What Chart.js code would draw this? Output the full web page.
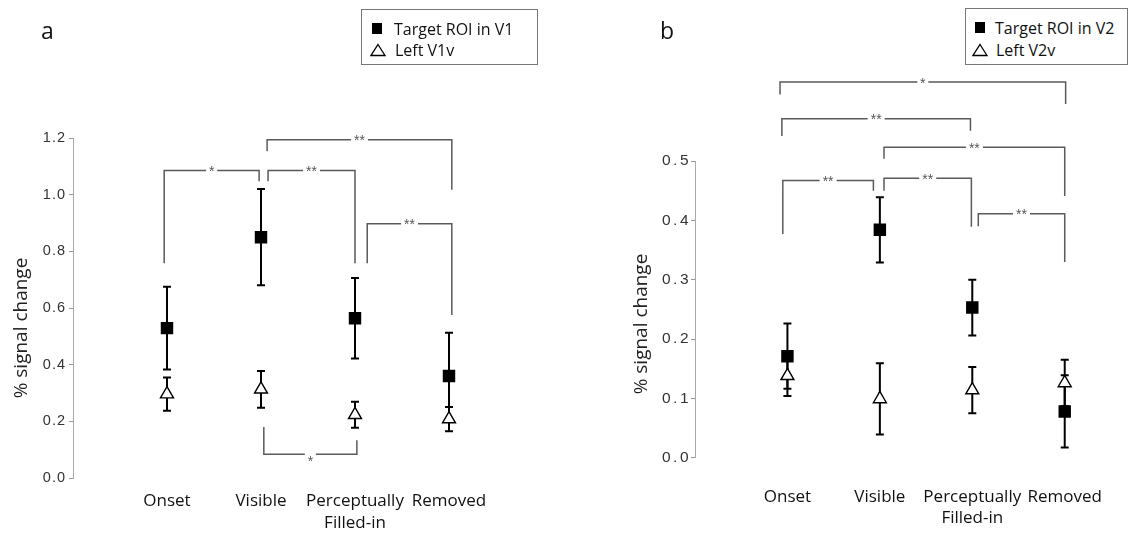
<!DOCTYPE html>
<html>
<head>
<meta charset="utf-8">
<script src="https://cdn.jsdelivr.net/npm/chart.js@4.4.0/dist/chart.umd.min.js"></script>
<style>
  html, body { margin: 0; padding: 0; background: #fff; }
  #wrap { position: relative; width: 1132px; height: 534px; overflow: hidden; font-family: "Open Sans", sans-serif; color: #111; }
  canvas { position: absolute; top: 0; }
  #cA { left: 0; }
  #cB { left: 566px; }
  .letter { position: absolute; font-size: 23px; line-height: 1; color: #111; }
  .legend { position: absolute; border: 1px solid #777; background: #fff; box-sizing: border-box; font-size: 16px; }
  .legend .row { position: absolute; left: 0; right: 0; height: 20px; line-height: 20px; white-space: nowrap; }
  .legend svg { position: absolute; top: 3px; }
  .legend span { position: absolute; }
</style>
</head>
<body>
<div id="wrap">
  <canvas id="cA" width="566" height="534"></canvas>
  <canvas id="cB" width="566" height="534"></canvas>

  <div class="letter" style="left:41px; top:19px;">a</div>
  <div class="letter" style="left:660px; top:19px;">b</div>

  <div class="legend" style="left:361px; top:9px; width:177px; height:56px;">
    <div class="row" style="top:9px;">
      <svg width="14" height="14" style="left:9px;"><rect x="1" y="1" width="10" height="11" fill="#000"/></svg>
      <span style="left:32px;">Target ROI in V1</span>
    </div>
    <div class="row" style="top:30px;">
      <svg width="18" height="14" style="left:8px;"><polygon points="8,1.5 15,12.5 1,12.5" fill="#fff" stroke="#000" stroke-width="1.3"/></svg>
      <span style="left:33px;">Left V1v</span>
    </div>
  </div>

  <div class="legend" style="left:965px; top:8px; width:163px; height:57px;">
    <div class="row" style="top:9px;">
      <svg width="14" height="14" style="left:8px;"><rect x="1" y="1" width="10" height="11" fill="#000"/></svg>
      <span style="left:29px;">Target ROI in V2</span>
    </div>
    <div class="row" style="top:31px;">
      <svg width="18" height="14" style="left:6px;"><polygon points="8,1.5 15,12.5 1,12.5" fill="#fff" stroke="#000" stroke-width="1.3"/></svg>
      <span style="left:30px;">Left V2v</span>
    </div>
  </div>
</div>

<script>
// Conditions on the x axis (multi-line label for the third one)
const categories = ['Onset', 'Visible', ['Perceptually', 'Filled-in'], 'Removed'];

// Panel a: V1 (% signal change, mean and error)
const v1Target    = [0.529, 0.850, 0.564, 0.360];
const v1TargetErr = [0.146, 0.170, 0.142, 0.153];
const v1Left      = [0.296, 0.313, 0.223, 0.208];
const v1LeftErr   = [0.059, 0.065, 0.046, 0.043];
const v1Ticks     = [0.0, 0.2, 0.4, 0.6, 0.8, 1.0, 1.2];

// Panel b: V2
const v2Target    = [0.171, 0.384, 0.253, 0.078];
const v2TargetErr = [0.055, 0.055, 0.047, 0.061];
const v2Left      = [0.138, 0.099, 0.114, 0.126];
const v2LeftErr   = [0.034, 0.060, 0.039, 0.039];
const v2Ticks     = [0.0, 0.1, 0.2, 0.3, 0.4, 0.5];

// Significance brackets: [from, to, level, left leg end, right leg end, label, left nudge, right nudge]
const v1Brackets = [
  [0, 1, 1.085, 0.758, 1.047, '*',  -0.03, -0.02],
  [1, 2, 1.085, 1.047, 0.758, '**',  0.075, 0.0],
  [1, 3, 1.194, 1.153, 1.017, '**',  0.065, 0.03],
  [2, 3, 0.897, 0.758, 0.575, '**',  0.13,  0.03],
  [1, 2, 0.084, 0.180, 0.133, '*',   0.03,  0.02]
];
const v2Brackets = [
  [0, 3, 0.633, 0.612, 0.596, '*',  -0.08,  0.01],
  [0, 2, 0.571, 0.542, 0.551, '**', -0.06, -0.02],
  [1, 3, 0.523, 0.504, 0.441, '**',  0.045, 0.0],
  [0, 1, 0.467, 0.377, 0.450, '**', -0.05, -0.07],
  [1, 2, 0.471, 0.450, 0.389, '**',  0.045, -0.01],
  [2, 3, 0.411, 0.390, 0.330, '**',  0.065, 0.0]
];

const yTitle = '% signal change';
const seriesNamesA = ['Target ROI in V1', 'Left V1v'];
const seriesNamesB = ['Target ROI in V2', 'Left V2v'];

// Error bars, significance brackets and the rotated y-axis title
function annotations(errs, brackets, title) {
  return {
    id: 'annotations',
    beforeDatasetsDraw(chart) {
      const ctx = chart.ctx, xs = chart.scales.x, ys = chart.scales.y;
      ctx.save();
      ctx.strokeStyle = '#000';
      ctx.lineWidth = 2;
      chart.data.datasets.forEach((ds, d) => {
        ds.data.forEach((p, i) => {
          const x = xs.getPixelForValue(p.x);
          const yt = ys.getPixelForValue(p.y + errs[d][i]);
          const yb = ys.getPixelForValue(p.y - errs[d][i]);
          ctx.beginPath();
          ctx.moveTo(x, yt); ctx.lineTo(x, yb);
          ctx.moveTo(x - 4, yt); ctx.lineTo(x + 4, yt);
          ctx.moveTo(x - 4, yb); ctx.lineTo(x + 4, yb);
          ctx.stroke();
        });
      });
      ctx.restore();
    },
    afterDraw(chart) {
      const ctx = chart.ctx, xs = chart.scales.x, ys = chart.scales.y;
      ctx.save();
      ctx.strokeStyle = '#5a5a5a';
      ctx.fillStyle = '#555';
      ctx.lineWidth = 1.5;
      ctx.font = '14px "Liberation Sans"';
      ctx.textAlign = 'center';
      ctx.textBaseline = 'alphabetic';
      brackets.forEach(b => {
        const [from, to, level, lEnd, rEnd, label, ln, rn] = b;
        const x1 = xs.getPixelForValue(from + ln);
        const x2 = xs.getPixelForValue(to + rn);
        const yl = ys.getPixelForValue(level);
        const y1 = ys.getPixelForValue(lEnd);
        const y2 = ys.getPixelForValue(rEnd);
        const xm = (x1 + x2) / 2;
        const gap = label.length === 1 ? 5.5 : 8.5;
        ctx.beginPath();
        ctx.moveTo(x1, y1); ctx.lineTo(x1, yl); ctx.lineTo(xm - gap, yl);
        ctx.moveTo(xm + gap, yl); ctx.lineTo(x2, yl); ctx.lineTo(x2, y2);
        ctx.stroke();
        const below = level < lEnd;
        ctx.fillText(label, xm, below ? yl + 12 : yl + 5.5);
      });
      // y-axis title
      ctx.fillStyle = '#222';
      ctx.font = '19px "Open Sans"';
      ctx.textBaseline = 'middle';
      ctx.translate(title.x, title.y);
      ctx.rotate(-Math.PI / 2);
      ctx.fillText(yTitle, 0, 0);
      ctx.restore();
    }
  };
}

// Give the y tick labels a little extra letter spacing
function spacedLabels(scale, spacing) {
  if (scale._spaced) return;
  const orig = scale.drawLabels.bind(scale);
  scale.drawLabels = area => {
    scale.ctx.save();
    scale.ctx.letterSpacing = spacing + 'px';
    orig(area);
    scale.ctx.restore();
  };
  scale._spaced = true;
}

function makeChart(id, cfg) {
  return new Chart(document.getElementById(id), {
    type: 'scatter',
    data: {
      datasets: [
        {
          label: cfg.names[0],
          data: cfg.target.map((v, i) => ({ x: i, y: v })),
          pointStyle: 'rect', pointRadius: 8.8, pointHoverRadius: 8.8,
          backgroundColor: '#000', borderColor: '#000', borderWidth: 0
        },
        {
          label: cfg.names[1],
          data: cfg.left.map((v, i) => ({ x: i, y: v })),
          pointStyle: 'triangle', pointRadius: 7.5, pointHoverRadius: 7.5,
          backgroundColor: '#fff', borderColor: '#000', borderWidth: 1.4
        }
      ]
    },
    options: {
      responsive: false,
      animation: false,
      devicePixelRatio: 1,
      events: [],
      layout: { padding: { left: 0, top: cfg.top, right: cfg.padRight, bottom: 0 } },
      plugins: { legend: { display: false }, tooltip: { enabled: false } },
      scales: {
        x: {
          type: 'linear', min: -1, max: cfg.xMax,
          grid: { display: false, drawTicks: false },
          border: { display: false },
          afterBuildTicks: s => { s.ticks = categories.map((c, i) => ({ value: i })); },
          afterFit: s => { s.height = cfg.xHeight; },
          ticks: {
            autoSkip: false, maxRotation: 0, minRotation: 0,
            padding: cfg.labelPad, color: '#111',
            font: { family: 'Open Sans', size: 17, lineHeight: 1.25 },
            callback: v => categories[v]
          }
        },
        y: {
          min: 0, max: cfg.ticks[cfg.ticks.length - 1],
          afterBuildTicks: s => { s.ticks = cfg.ticks.map(v => ({ value: v })); },
          afterFit: s => { s.width = cfg.axisX; spacedLabels(s, cfg.tickSpacing); },
          grid: { drawOnChartArea: false, drawTicks: true, tickLength: 4, color: '#999', lineWidth: 1 },
          border: { display: true, color: '#aaa', width: 1 },
          ticks: {
            padding: cfg.tickPad, color: '#333',
            font: { family: 'Liberation Sans', size: cfg.tickSize },
            callback: v => Number(v).toFixed(1)
          }
        }
      }
    },
    plugins: [annotations([cfg.targetErr, cfg.leftErr], cfg.brackets, cfg.title)]
  });
}

makeChart('cA', {
  names: seriesNamesA, target: v1Target, targetErr: v1TargetErr, left: v1Left, leftErr: v1LeftErr,
  ticks: v1Ticks, brackets: v1Brackets,
  top: 138, padRight: 60.6, xMax: 3.6, xHeight: 56, axisX: 73, labelPad: 13,
  tickPad: 3, tickSize: 14.5, tickSpacing: 1,
  title: { x: 22, y: 328 }
});

makeChart('cB', {
  names: seriesNamesB, target: v2Target, targetErr: v2TargetErr, left: v2Left, leftErr: v2LeftErr,
  ticks: v2Ticks, brackets: v2Brackets,
  top: 161, padRight: 9.5, xMax: 3.5, xHeight: 76.3, axisX: 129, labelPad: 29,
  tickPad: 0, tickSize: 15.5, tickSpacing: 2.5,
  title: { x: 76, y: 324 }
});
</script>
</body>
</html>
